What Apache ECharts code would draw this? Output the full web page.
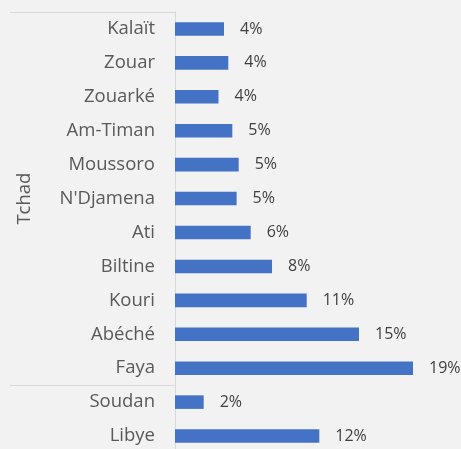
<!DOCTYPE html>
<html>
<head>
<meta charset="utf-8">
<script src="https://cdn.jsdelivr.net/npm/echarts@6/dist/echarts.min.js"></script>
<style>
html,body{margin:0;padding:0;background:#f2f2f2;overflow:hidden;}
#chart{width:461px;height:460px;}
</style>
</head>
<body>
<div id="chart"></div>
<script>
const categories = ['Kalaït','Zouar','Zouarké','Am-Timan','Moussoro',"N'Djamena",'Ati','Biltine','Kouri','Abéché','Faya','Soudan','Libye'];
const values = [4.0, 4.35, 3.55, 4.68, 5.2, 5.03, 6.18, 7.92, 10.75, 15.02, 19.43, 2.34, 11.78];
const groupNames = ['Tchad', ''];
const groupStarts = [0, 11];
const groupEnds = [10, 12];

const FONT = '"Open Sans", "Noto Sans", sans-serif';
const chart = echarts.init(document.getElementById('chart'), null, {renderer: 'canvas'});
chart.setOption({
  backgroundColor: '#f2f2f2',
  animation: false,
  grid: {left: 175, top: 12, right: 41, height: 441, containLabel: false},
  xAxis: {type: 'value', min: 0, max: 20, show: false},
  yAxis: {
    type: 'category', data: categories, inverse: true,
    axisLine: {show: true, lineStyle: {color: '#d9d9d9', width: 1}},
    axisTick: {show: false},
    axisLabel: {color: '#595959', fontSize: 18.5, fontFamily: FONT, margin: 20}
  },
  series: [{
    type: 'bar', data: values, barCategoryGap: '60%',
    itemStyle: {color: '#4472c4'},
    label: {show: true, position: 'right', distance: 16, color: '#404040', fontSize: 16, fontFamily: FONT,
      formatter: p => Math.round(p.value) + '%'}
  }]
});

const y0 = chart.convertToPixel({yAxisIndex: 0}, categories[0]);
const y1 = chart.convertToPixel({yAxisIndex: 0}, categories[1]);
const band = y1 - y0;
const xAxisPix = chart.convertToPixel({xAxisIndex: 0}, 0);
const graphics = [];
groupStarts.forEach((s, i) => {
  const top = chart.convertToPixel({yAxisIndex: 0}, categories[s]) - band / 2;
  const bottom = chart.convertToPixel({yAxisIndex: 0}, categories[groupEnds[i]]) + band / 2;
  graphics.push({type: 'line', shape: {x1: 10, y1: Math.round(top) + 0.5, x2: xAxisPix, y2: Math.round(top) + 0.5},
    style: {stroke: '#d9d9d9', lineWidth: 1}});
  if (groupNames[i]) {
    graphics.push({type: 'text', x: 25, y: (top + bottom) / 2, rotation: Math.PI / 2,
      style: {text: groupNames[i], fill: '#595959', font: '18.5px ' + FONT, textAlign: 'center', textVerticalAlign: 'middle'}});
  }
});
chart.setOption({graphic: graphics});
</script>
</body>
</html>
